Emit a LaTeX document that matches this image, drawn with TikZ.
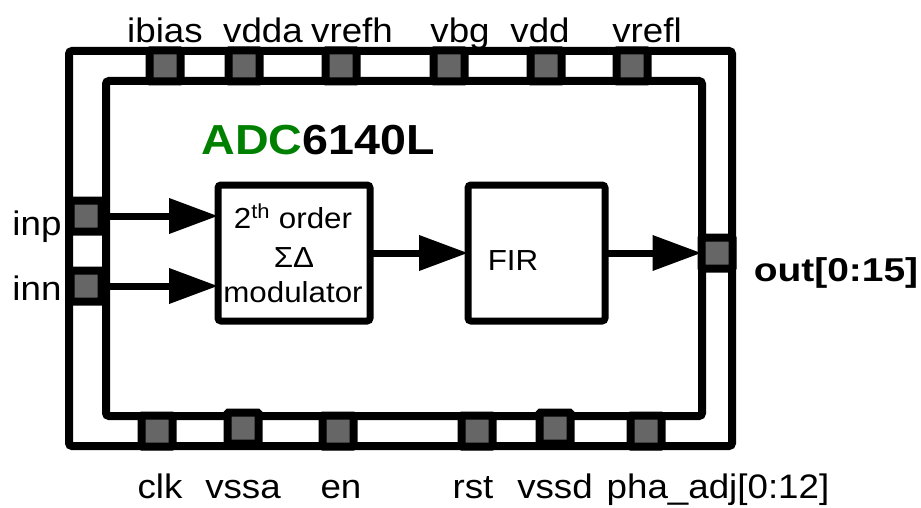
\documentclass[tikz,border=0pt]{standalone}
\usepackage{fontspec}
\setmainfont{Liberation Sans}
\usetikzlibrary{arrows.meta}
\definecolor{pingray}{HTML}{666666}
\definecolor{adcgreen}{HTML}{008000}
\begin{document}
\begin{tikzpicture}[x=1pt,y=-1pt,
  frame/.style={draw=black,line width=8pt,rounded corners=3pt},
  pinbox/.style={draw=black,fill=pingray,line width=8pt,minimum width=31pt,minimum height=31pt,inner sep=0pt,outer sep=0pt,rounded corners=1pt},
  blk/.style={draw=black,line width=7pt,rounded corners=3pt,fill=white,inner sep=0pt,outer sep=0pt},
  lbl/.style={font=\fontsize{34}{40}\selectfont,xscale=1.08,inner sep=0pt,anchor=base},
  blktxt/.style={font=\fontsize{29}{34}\selectfont,xscale=1.08,inner sep=0pt,anchor=base},
  arr/.style={line width=7pt,-{Triangle[length=49pt,width=34pt]}}]
\useasboundingbox (0,0) rectangle (921,508);
% frames
\draw[frame] (69,51) rectangle (732,446);
\draw[frame] (106,81) rectangle (702,416);
% top pins
\node[pinbox] (ibias) at (165,66) {};
\node[pinbox] (vdda)  at (244,66) {};
\node[pinbox] (vrefh) at (341,66) {};
\node[pinbox] (vbg)   at (449,66) {};
\node[pinbox] (vdd)   at (546,66) {};
\node[pinbox] (vrefl) at (632,66) {};
% bottom pins
\node[pinbox] (clk)  at (157,431) {};
\node[pinbox] (vssa) at (243,428) {};
\node[pinbox] (en)   at (338,431) {};
\node[pinbox] (rst)  at (477,431) {};
\node[pinbox] (vssd) at (555,428) {};
\node[pinbox] (pha)  at (646,431) {};
% side pins
\node[pinbox] (inp) at (86,216) {};
\node[pinbox] (inn) at (86,286) {};
\node[pinbox] (out) at (717,253) {};
% pin labels
\node[lbl] (tibias) at (165,43) {ibias};
\node[lbl] (tvdda)  at (263,43) {vdda};
\node[lbl] (tvrefh) at (352,43) {vrefh};
\node[lbl] (tvbg)   at (460,43) {vbg};
\node[lbl] (tvdd)   at (540,43) {vdd};
\node[lbl] (tvrefl) at (647,43) {vrefl};
\node[lbl] (tclk)  at (160,498) {clk};
\node[lbl] (tvssa) at (243,498) {vssa};
\node[lbl] (ten)   at (341,498) {en};
\node[lbl] (trst)  at (473,498) {rst};
\node[lbl] (tvssd) at (555,498) {vssd};
\node[lbl] (tpha)  at (718,498) {pha\_adj[0:12]};
\node[lbl] (tinp) at (37,235) {inp};
\node[lbl] (tinn) at (37,300) {inn};
\node[font=\fontsize{33}{38}\selectfont\bfseries,xscale=1.18,inner sep=0pt,anchor=base] (tout) at (836,281) {out[0:15]};
% title
\node[font=\fontsize{42}{50}\selectfont\bfseries,xscale=1.11,inner sep=0pt,anchor=base] (title) at (318,155) {\textcolor{adcgreen}{ADC}6140L};
% blocks
\node[blk,minimum width=152pt,minimum height=136pt] (mod) at (294,253) {};
\node[blk,minimum width=137pt,minimum height=136pt] (fir) at (536.5,253) {};
\node[blktxt] (m1) at (293,228) {2\textsuperscript{th} order};
\node[blktxt] (m2) at (294,267) {ΣΔ};
\node[blktxt] (m3) at (293,302) {modulator};
\node[blktxt] (ftxt) at (513,270) {FIR};
% connectors
\draw[arr] (inp.east) -- (inp.east -| mod.west);
\draw[arr] (inn.east) -- (inn.east -| mod.west);
\draw[arr] (mod.east) -- (fir.west);
\draw[arr] (fir.east) -- (out.west);
\end{tikzpicture}
\end{document}
